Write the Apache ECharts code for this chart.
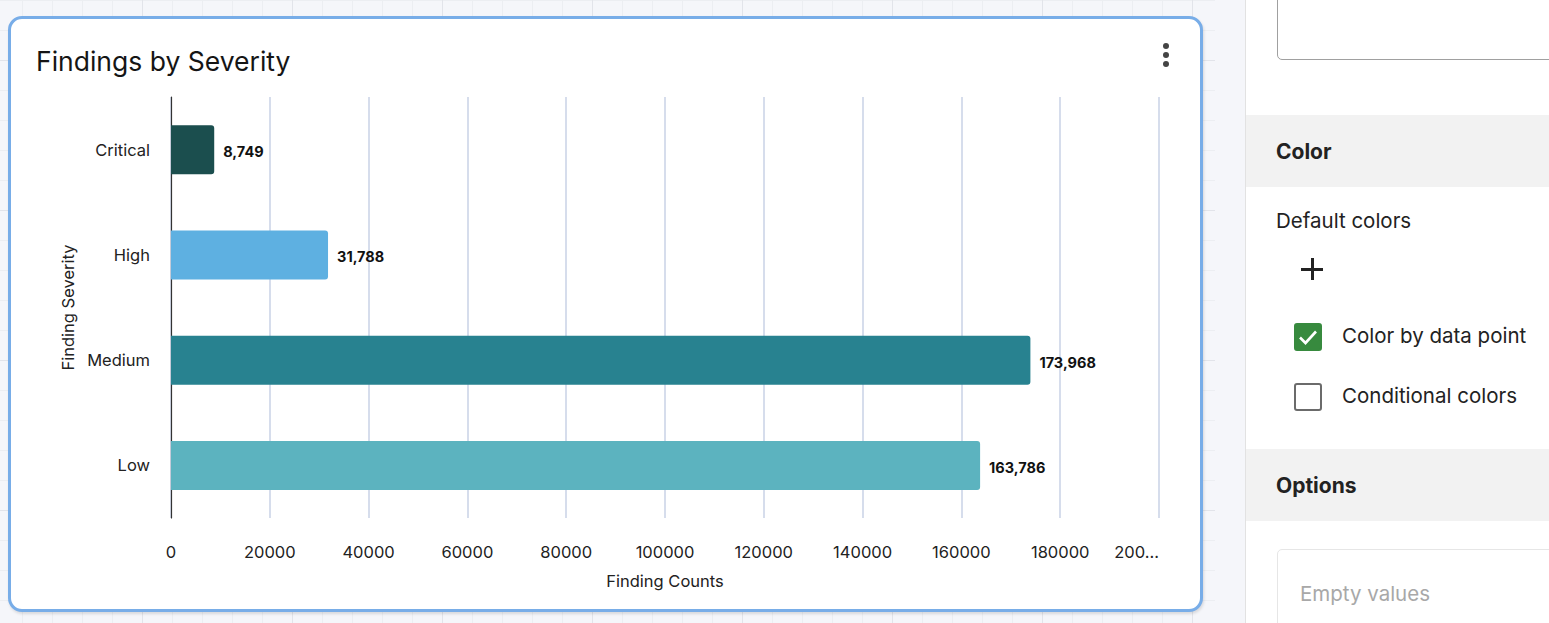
<!DOCTYPE html>
<html>
<head>
<meta charset="utf-8">
<script src="https://cdn.jsdelivr.net/npm/echarts@6/dist/echarts.min.js"></script>
<style>
  html, body { margin: 0; padding: 0; width: 1549px; height: 623px; overflow: hidden; font-family: Inter, "Noto Sans", sans-serif; }
  #page { position: absolute; left: 0; top: 0; width: 1549px; height: 623px; background: #f5f6fa; }
  #gridbg { position: absolute; left: 0; top: 0; width: 1215px; height: 623px;
    background-image:
      linear-gradient(to right, #e2e4ea 1px, transparent 1px),
      linear-gradient(to bottom, #e2e4ea 1px, transparent 1px),
      linear-gradient(to right, #eceef2 1px, transparent 1px),
      linear-gradient(to bottom, #eceef2 1px, transparent 1px);
    background-size: 150px 150px, 150px 150px, 30px 30px, 30px 30px;
    background-position: 142px 0, 0 60px, 22px 0, 0 0;
  }
  #card { position: absolute; left: 8px; top: 16px; width: 1189px; height: 590px; background: #fff;
    border: 3px solid #78ade8; border-radius: 14px; box-shadow: 1px 2px 3px rgba(0,0,0,0.12); }
  #chart { position: absolute; left: 0; top: 0; width: 1189px; height: 590px; }
  .kebab { position: absolute; left: 1152px; top: 24px; width: 6px; }
  .kebab span { display: block; width: 6px; height: 6px; border-radius: 50%; background: #444; margin-bottom: 3px; }
  #panel { position: absolute; left: 1245px; top: 0; width: 304px; height: 623px; background: #fff; border-left: 1px solid #e2e2e2; }
  .topbox { position: absolute; left: 31px; top: -10px; width: 300px; height: 68px; border: 1px solid #a0a0a0; border-radius: 5px; }
  .band { position: absolute; left: 0; width: 304px; height: 72px; background: #f2f2f2; }
  .band span { position: absolute; left: 30px; top: 24px; font-size: 21px; font-weight: 700; color: #222; }
  .txt { position: absolute; font-size: 20.5px; color: #222; white-space: nowrap; }
  .plus { position: absolute; left: 55px; top: 258px; width: 22px; height: 22px; }
  .plus:before { content: ""; position: absolute; left: 10px; top: 0; width: 2.5px; height: 22px; background: #222; }
  .plus:after { content: ""; position: absolute; left: 0; top: 10px; width: 22px; height: 2.5px; background: #222; }
  .cb { position: absolute; left: 48px; width: 24px; height: 24px; border-radius: 3px; }
  .cb.on { background: #378a3e; border: 2px solid #378a3e; }
  .cb.off { background: #fff; border: 2px solid #6b6b6b; }
  .botbox { position: absolute; left: 31px; top: 549px; width: 300px; height: 100px; border: 1px solid #e6e6e6; border-radius: 5px; }
</style>
</head>
<body>
<div id="page">
  <div id="gridbg"></div>
  <div id="card">
    <div id="chart"></div>
    <div class="kebab"><span></span><span></span><span></span></div>
  </div>
  <div id="panel">
    <div class="topbox"></div>
    <div class="band" style="top:115px"><span>Color</span></div>
    <div class="txt" style="left:30px; top:208px;">Default colors</div>
    <div class="plus"></div>
    <div class="cb on" style="top:323px">
      <svg width="24" height="24" viewBox="0 0 24 24" style="position:absolute;left:0;top:0"><path d="M4 12.5 L9.5 18 L20 6.5" fill="none" stroke="#fff" stroke-width="2.6"/></svg>
    </div>
    <div class="txt" style="left:96px; top:323px;">Color by data point</div>
    <div class="cb off" style="top:383px"></div>
    <div class="txt" style="left:96px; top:383px;">Conditional colors</div>
    <div class="band" style="top:449px"><span>Options</span></div>
    <div class="botbox"></div>
    <div class="txt" style="left:54px; top:581px; color:#a8a8a8;">Empty values</div>
  </div>
</div>
<script>
const chartTitle = 'Findings by Severity';
const categories = ['Critical', 'High', 'Medium', 'Low'];
const counts = [8749, 31788, 173968, 163786];
const barColors = ['#1b4e4e', '#5eb0e1', '#288290', '#5cb3bf'];
const xAxisName = 'Finding Counts';
const yAxisName = 'Finding Severity';
const xMin = 0, xMax = 200000, xStep = 20000;

const chart = echarts.init(document.getElementById('chart'), null, { renderer: 'svg' });
chart.setOption({
  animation: false,
  textStyle: { fontFamily: 'Inter, "Noto Sans", sans-serif' },
  title: {
    text: chartTitle, left: 20, top: 23,
    textStyle: { fontSize: 26.5, fontWeight: 400, color: '#151515', fontFamily: 'Inter, "Noto Sans", sans-serif' }
  },
  grid: { left: 160, right: 41, top: 78, bottom: 91 },
  xAxis: {
    type: 'value', min: xMin, max: xMax, interval: xStep,
    name: xAxisName, nameLocation: 'middle', nameGap: 54,
    nameTextStyle: { fontSize: 16.5, color: '#222' },
    axisLine: { show: false }, axisTick: { show: false },
    axisLabel: {
      fontSize: 16.5, color: '#222', margin: 25, alignMaxLabel: 'right',
      formatter: v => v >= xMax ? String(v).slice(0, 3) + '…' : String(v)
    },
    splitLine: { show: true, lineStyle: { color: '#c8d2e6', width: 1.5 } }
  },
  yAxis: {
    type: 'category', data: categories, inverse: true,
    name: yAxisName, nameLocation: 'middle', nameGap: 94, nameRotate: 90,
    nameTextStyle: { fontSize: 16.5, color: '#222' },
    axisLine: { show: true, lineStyle: { color: '#333', width: 1.2 } },
    axisTick: { show: false },
    axisLabel: { fontSize: 16.5, color: '#222', margin: 21 }
  },
  series: [{
    type: 'bar',
    barWidth: 49,
    data: counts.map((v, i) => ({ value: v, itemStyle: { color: barColors[i] } })),
    itemStyle: { borderRadius: [0, 3, 3, 0] },
    label: {
      show: true, position: 'right', distance: 9, offset: [0, 2],
      fontSize: 14.5, fontWeight: 700, color: '#111',
      formatter: p => p.value.toLocaleString('en-US')
    }
  }]
});
</script>
</body>
</html>
